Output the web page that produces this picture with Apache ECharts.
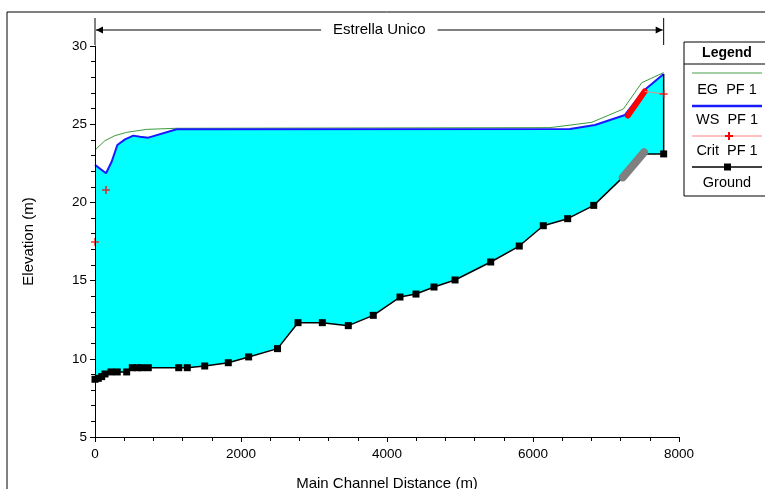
<!DOCTYPE html>
<html>
<head>
<meta charset="utf-8">
<script src="https://cdn.jsdelivr.net/npm/echarts@6/dist/echarts.min.js"></script>
<style>
html,body{margin:0;padding:0;background:#fff;}
#c{width:765px;height:489px;}
</style>
</head>
<body>
<div id="c"></div>
<script>
// ---- data ----
const reachName = 'Estrella Unico';
const reachStart = 0;
const reachEnd = 7790;

const groundX = [0, 45, 92, 137, 219, 305, 434, 511, 579, 640, 730, 1147, 1264, 1503, 1826, 2105, 2500, 2781, 3114, 3470, 3812, 4178, 4397, 4644, 4932, 5421, 5812, 6141, 6475, 6832, 7790];
const groundY = [8.69, 8.75, 8.86, 9.03, 9.16, 9.16, 9.16, 9.43, 9.43, 9.43, 9.43, 9.43, 9.43, 9.54, 9.75, 10.12, 10.65, 12.31, 12.31, 12.12, 12.78, 13.95, 14.14, 14.59, 15.04, 16.19, 17.21, 18.51, 18.96, 19.81, 23.1];

// interpolated ground sections (grey band)
const interpX = [7230, 7520, 7560];
const interpY = [21.6, 23.2, 23.1];

const wsX = [0, 151, 228, 306, 411, 525, 616, 730, 1119, 6507, 6849, 7260, 7511, 7790];
const wsY = [22.4, 21.86, 22.6, 23.67, 24.03, 24.27, 24.2, 24.14, 24.68, 24.7, 24.95, 25.59, 27.12, 28.21];

const egX = [0, 137, 274, 434, 708, 1119, 6233, 6804, 7237, 7489, 7790];
const egY = [23.35, 23.95, 24.27, 24.48, 24.67, 24.74, 24.78, 25.12, 25.97, 27.65, 28.3];

const critX = [0, 151, 7790];
const critY = [17.47, 20.79, 26.93];
const critBandX = [7300, 7530];
const critBandY = [25.55, 27.1];

const legendItems = ['EG  PF 1', 'WS  PF 1', 'Crit  PF 1', 'Ground'];

// ---- build ----
const zip = (xs, ys) => xs.map((x, i) => [x, ys[i]]);
const FONT = 'Liberation Sans, Arial, sans-serif';

const groundAll = zip(groundX, groundY).map(p => ({value: p, main: true}))
  .concat(zip(interpX, interpY).map(p => ({value: p, main: false})))
  .sort((a, b) => a.value[0] - b.value[0])
  .map(d => d.main ? {value: d.value} : {value: d.value, symbol: 'none'});
const groundPts = groundAll.map(d => d.value);
const wsPts = zip(wsX, wsY);

const plus = 'path://M4,0L6,0L6,4L10,4L10,6L6,6L6,10L4,10L4,6L0,6L0,4L4,4Z';

const chart = echarts.init(document.getElementById('c'), null, {renderer: 'canvas'});

const legendGraphic = (() => {
  const x0 = 684, y0 = 42, w = 90, h = 154;
  const cx = 727;
  const els = [
    {type: 'rect', shape: {x: x0, y: y0, width: w, height: h}, style: {fill: '#fff', stroke: '#000', lineWidth: 1}},
    {type: 'text', x: cx, y: 53, style: {text: 'Legend', font: 'bold 14px ' + FONT, fill: '#000', align: 'center', verticalAlign: 'middle'}},
    {type: 'line', shape: {x1: x0, y1: 64, x2: x0 + w, y2: 64}, style: {stroke: '#000', lineWidth: 1}}
  ];
  const lineY = [73, 106, 136, 167];
  const textY = [90, 120, 151, 183];
  const colors = ['#4a9e4a', '#1a1aff', '#ff8080', '#000'];
  const widths = [1, 2.5, 1, 1.5];
  legendItems.forEach((t, i) => {
    els.push({type: 'line', shape: {x1: 692, y1: lineY[i], x2: 762, y2: lineY[i]}, style: {stroke: colors[i], lineWidth: widths[i]}});
    els.push({type: 'text', x: cx, y: textY[i], style: {text: t, font: '14.5px ' + FONT, fill: '#000', align: 'center', verticalAlign: 'middle'}});
  });
  els.push({type: 'rect', shape: {x: 725, y: 135, width: 8, height: 2}, style: {fill: '#ff0000'}});
  els.push({type: 'rect', shape: {x: 728, y: 132, width: 2, height: 8}, style: {fill: '#ff0000'}});
  els.push({type: 'rect', shape: {x: 724, y: 163.5, width: 7, height: 7}, style: {fill: '#000'}});
  return els;
})();

const option = {
  animation: false,
  backgroundColor: '#fff',
  grid: {left: 95, right: 86, top: 46, bottom: 52, containLabel: false, outerBoundsMode: 'none'},
  xAxis: {
    type: 'value', min: 0, max: 8000, interval: 2000, z: 10,
    name: 'Main Channel Distance (m)', nameLocation: 'middle', nameGap: 39,
    nameTextStyle: {fontFamily: FONT, fontSize: 15, color: '#000'},
    axisLine: {show: true, onZero: false, lineStyle: {color: '#000', width: 1}},
    axisTick: {show: true, length: 5, lineStyle: {color: '#000'}},
    minorTick: {show: true, splitNumber: 5, length: 4, lineStyle: {color: '#000'}},
    axisLabel: {fontFamily: FONT, fontSize: 13.5, color: '#000', margin: 10, formatter: v => String(v)},
    splitLine: {show: false}
  },
  yAxis: {
    type: 'value', min: 5, max: 30, interval: 5, z: 10,
    name: 'Elevation (m)', nameLocation: 'middle', nameGap: 59, nameRotate: 90,
    nameTextStyle: {fontFamily: FONT, fontSize: 15, color: '#000'},
    axisLine: {show: true, onZero: false, lineStyle: {color: '#000', width: 1}},
    axisTick: {show: true, length: 5, lineStyle: {color: '#000'}},
    minorTick: {show: true, splitNumber: 5, length: 4, lineStyle: {color: '#000'}},
    axisLabel: {fontFamily: FONT, fontSize: 13.5, color: '#000', margin: 8, formatter: v => String(v)},
    splitLine: {show: false}
  },
  graphic: [
    {type: 'rect', z: -1, shape: {x: 7, y: 12, width: 800, height: 500}, style: {fill: 'none', stroke: '#000', lineWidth: 1}},
    {type: 'group', z: 100, children: legendGraphic}
  ],
  series: [
    {
      name: 'waterFill', type: 'custom', silent: true, z: 1,
      data: [[0]],
      renderItem: function (params, api) {
        const pts = wsPts.map(p => api.coord(p)).concat(groundPts.slice().reverse().map(p => api.coord(p)));
        return {type: 'polygon', shape: {points: pts}, style: {fill: '#00ffff', stroke: null}};
      }
    },
    {
      name: 'EG PF 1', type: 'line', data: zip(egX, egY), symbol: 'none',
      lineStyle: {color: '#3d9a3d', width: 1}, z: 3
    },
    {
      name: 'WS PF 1', type: 'line', data: wsPts, symbol: 'none',
      lineStyle: {color: '#1a1aff', width: 2}, z: 4
    },
    {
      name: 'wall', type: 'line', data: [[wsX[wsX.length - 1], groundY[groundY.length - 1]], [wsX[wsX.length - 1], wsY[wsY.length - 1]]],
      symbol: 'none', lineStyle: {color: '#000', width: 1.5}, z: 4
    },
    {
      name: 'interp', type: 'line', data: zip(interpX.slice(0, 2), interpY.slice(0, 2)), symbol: 'none',
      lineStyle: {color: '#808080', width: 8, cap: 'round'}, z: 6
    },
    {
      name: 'Ground', type: 'line', data: groundAll, symbol: 'rect', symbolSize: 7,
      itemStyle: {color: '#000'}, lineStyle: {color: '#000', width: 1.5}, z: 5
    },
    {
      name: 'critBand', type: 'line', data: zip(critBandX, critBandY), symbol: 'none',
      lineStyle: {color: '#ff0000', width: 6, cap: 'round'}, z: 7
    },
    {
      name: 'critLine', type: 'line', data: [[critBandX[1], critBandY[1]], [critX[2], critY[2]]], symbol: 'none',
      lineStyle: {color: '#ff8080', width: 1}, z: 7
    },
    {
      name: 'Crit PF 1', type: 'scatter', data: zip(critX, critY), symbol: plus, symbolSize: 8,
      itemStyle: {color: '#ff0000'}, z: 8
    },
    {
      name: 'reach', type: 'custom', clip: false, silent: true, z: 9,
      data: [[reachStart, reachEnd]],
      renderItem: function (params, api) {
        const a = api.coord([api.value(0), 30]);
        const b = api.coord([api.value(1), 30]);
        const top = a[1];
        const yA = top - 16;
        const stroke = {stroke: '#000', lineWidth: 1};
        return {
          type: 'group',
          children: [
            {type: 'line', shape: {x1: a[0], y1: top - 28, x2: a[0], y2: top - 1}, style: stroke},
            {type: 'line', shape: {x1: b[0], y1: top - 28, x2: b[0], y2: top - 1}, style: stroke},
            {type: 'line', shape: {x1: a[0] + 1, y1: yA, x2: b[0] - 1, y2: yA}, style: stroke},
            {type: 'polygon', shape: {points: [[a[0] + 1, yA], [a[0] + 8, yA - 3.5], [a[0] + 8, yA + 3.5]]}, style: {fill: '#000'}},
            {type: 'polygon', shape: {points: [[b[0] - 1, yA], [b[0] - 8, yA - 3.5], [b[0] - 8, yA + 3.5]]}, style: {fill: '#000'}},
            {type: 'text', x: (a[0] + b[0]) / 2, y: yA, style: {text: reachName, font: '15px ' + FONT, fill: '#000', align: 'center', verticalAlign: 'middle', backgroundColor: '#fff', padding: [2, 12]}}
          ]
        };
      }
    }
  ]
};
chart.setOption(option);
</script>
</body>
</html>
